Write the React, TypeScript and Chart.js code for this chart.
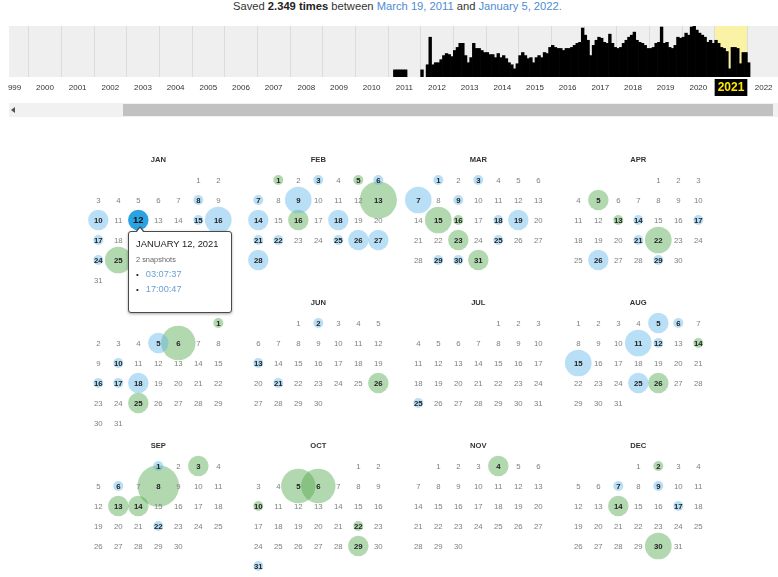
import React, { useEffect, useRef } from 'react';
import { Chart, registerables } from 'chart.js';
Chart.register(...registerables);

// ---------- Sparkline data (snapshots per month, relative heights) ----------
const YEARS = ['1999','2000','2001','2002','2003','2004','2005','2006','2007','2008','2009','2010','2011','2012','2013','2014','2015','2016','2017','2018','2019','2020','2021','2022'];
const MONTH_ABBR = ['Jan','Feb','Mar','Apr','May','Jun','Jul','Aug','Sep','Oct','Nov','Dec'];
const HIGHLIGHT_YEAR = '2021';
const Y2011 = [0,0,7,7,7,7,7,0,0,0,0,0];
const Y2012 = [7,0,12,39,12,14,14,17,21,23,22,20];
const Y2013 = [26,29,33,33,21,14,19,33,28,28,26,24];
const Y2014 = [24,22,22,19,23,19,21,18,14,12,8,13];
const Y2015 = [21,24,21,18,19,14,19,21,19,24,23,29];
const Y2016 = [31,29,28,28,26,28,28,29,31,33,34,48];
const Y2017 = [41,36,21,31,36,39,38,34,33,42,33,29];
const Y2018 = [28,29,33,36,39,41,44,36,34,33,31,28];
const Y2019 = [28,29,33,34,49,33,34,29,28,31,39,38];
const Y2020 = [39,43,41,49,50,46,43,41,39,34,36,33];
const Y2021 = [36,33,29,28,25,8,29,29,28,13,24,24];
const Y2022 = [14,0,0,0,0,0,0,0,0,0,0,0];
const SPARK: Record<string, number[]> = { '2011': Y2011, '2012': Y2012, '2013': Y2013, '2014': Y2014, '2015': Y2015, '2016': Y2016, '2017': Y2017, '2018': Y2018, '2019': Y2019, '2020': Y2020, '2021': Y2021, '2022': Y2022 };
const EMPTY_YEAR = [0,0,0,0,0,0,0,0,0,0,0,0];

// ---------- Calendar data: [day, snapshots, kind]  b=2xx, g=3xx, a=active ----------
const CAL_YEAR = 2021;
const MONTH_NAMES = ['JAN','FEB','MAR','APR','MAY','JUN','JUL','AUG','SEP','OCT','NOV','DEC'];
const JAN: [number, number, string][] = [[8,1,'b'],[10,2,'b'],[12,2,'a'],[15,1,'b'],[16,3,'b'],[17,1,'b'],[24,1,'b'],[25,3,'g']];
const FEB: [number, number, string][] = [[1,1,'g'],[3,1,'b'],[5,1,'g'],[6,1,'b'],[7,1,'b'],[9,3,'b'],[13,6,'g'],[14,2,'b'],[16,2,'g'],[18,2,'b'],[21,1,'b'],[22,1,'b'],[25,1,'b'],[26,2,'b'],[27,2,'b'],[28,2,'b']];
const MAR: [number, number, string][] = [[1,1,'b'],[3,1,'b'],[7,3,'b'],[9,1,'b'],[15,3,'g'],[16,1,'g'],[18,1,'b'],[19,2,'b'],[23,2,'g'],[25,1,'b'],[29,1,'b'],[30,1,'b'],[31,2,'g']];
const APR: [number, number, string][] = [[5,2,'g'],[13,1,'g'],[14,1,'b'],[17,1,'b'],[21,1,'b'],[22,3,'g'],[26,2,'b'],[29,1,'b']];
const MAY: [number, number, string][] = [[1,1,'g'],[5,2,'b'],[6,5,'g'],[10,1,'b'],[16,1,'b'],[17,1,'b'],[18,2,'b'],[25,2,'g']];
const JUN: [number, number, string][] = [[2,1,'b'],[13,1,'b'],[21,1,'b'],[26,2,'g']];
const JUL: [number, number, string][] = [[25,1,'b']];
const AUG: [number, number, string][] = [[5,2,'b'],[6,1,'b'],[11,3,'b'],[12,1,'b'],[14,1,'g'],[15,3,'b'],[25,2,'b'],[26,2,'g']];
const SEP: [number, number, string][] = [[1,1,'b'],[3,2,'g'],[6,1,'b'],[8,8,'g'],[13,2,'g'],[14,2,'g'],[22,1,'b']];
const OCT: [number, number, string][] = [[5,5,'g'],[6,5,'g'],[10,1,'g'],[22,1,'g'],[29,2,'g'],[31,1,'b']];
const NOV: [number, number, string][] = [[4,2,'g']];
const DEC: [number, number, string][] = [[2,1,'g'],[7,1,'b'],[9,1,'b'],[14,2,'g'],[17,1,'b'],[30,3,'g']];
const CAL = [JAN, FEB, MAR, APR, MAY, JUN, JUL, AUG, SEP, OCT, NOV, DEC];

const TIP_TITLE = 'JANUARY 12, 2021';
const TIP_COUNT = '2 snapshots';
const TIP_TIMES = ['03:07:37', '17:00:47'];

const FONT = '"Liberation Sans", Arial, Helvetica, sans-serif';
const ROW_STEP = 7.15;
const COL_STEP = 8;
const WRAP_LEFT = 8; // page x of the sparkline clip box
const SPARK_LEFT = -4; // page x of the canvas
const GREY_START = 9; // page x where the grey strip starts

function radiusFor(count: number) {
  return 5 + 7.6 * Math.log(count);
}

function cellOf(month: number, day: number) {
  const first = new Date(CAL_YEAR, month, 1).getDay();
  const idx = first + day - 1;
  const row = Math.floor(month / 4);
  const col = month % 4;
  return { x: col * COL_STEP + (idx % 7), y: row * ROW_STEP + Math.floor(idx / 7) };
}

const sparkBg = {
  id: 'sparkBg',
  beforeDraw(chart: any) {
    const { ctx, chartArea: a, scales } = chart;
    ctx.save();
    ctx.fillStyle = '#efefef';
    const gx = Math.max(a.left, GREY_START - SPARK_LEFT);
    ctx.fillRect(gx, a.top, a.right - gx, a.bottom - a.top);
    const ys = scales.years;
    const i = YEARS.indexOf(HIGHLIGHT_YEAR);
    const cx = ys.getPixelForTick(i);
    const half = (a.right - a.left) / YEARS.length / 2;
    ctx.fillStyle = '#faf3a6';
    ctx.fillRect(cx - half, a.top, half * 2, a.bottom - a.top);
    ctx.restore();
  },
};

const calText = {
  id: 'calText',
  afterDatasetsDraw(chart: any) {
    const { ctx, scales } = chart;
    const sx = scales.x, sy = scales.y;
    ctx.save();
    ctx.textAlign = 'center';
    ctx.textBaseline = 'middle';
    for (let m = 0; m < 12; m++) {
      const row = Math.floor(m / 4);
      const col = m % 4;
      ctx.font = `bold 7.6px ${FONT}`;
      ctx.fillStyle = '#333';
      ctx.fillText(MONTH_NAMES[m], sx.getPixelForValue(col * COL_STEP + 3), sy.getPixelForValue(row * ROW_STEP - 1));
      const n = new Date(CAL_YEAR, m + 1, 0).getDate();
      const snaps = new Map(CAL[m].map((s) => [s[0], s]));
      for (let d = 1; d <= n; d++) {
        const c = cellOf(m, d);
        const s = snaps.get(d);
        if (s && s[2] === 'a') {
          ctx.font = `bold 9.5px ${FONT}`;
          ctx.fillStyle = '#111';
        } else if (s) {
          ctx.font = `bold 7.8px ${FONT}`;
          ctx.fillStyle = '#222';
        } else {
          ctx.font = `7.8px ${FONT}`;
          ctx.fillStyle = '#808080';
        }
        ctx.fillText(String(d), sx.getPixelForValue(c.x), sy.getPixelForValue(c.y) + 0.5);
      }
    }
    ctx.restore();
  },
};

function bubbles(kind: string) {
  const out: { x: number; y: number; r: number }[] = [];
  CAL.forEach((list, m) => {
    list.forEach(([day, count, k]) => {
      if (k !== kind) return;
      const c = cellOf(m, day);
      out.push({ x: c.x, y: c.y, r: radiusFor(count) });
    });
  });
  return out;
}

export default function App() {
  const sparkRef = useRef<HTMLCanvasElement>(null);
  const calRef = useRef<HTMLCanvasElement>(null);

  useEffect(() => {
    const labels = YEARS.flatMap((y) => MONTH_ABBR.map((m) => `${m} ${y}`));
    // months without snapshots are left empty (no bar drawn)
    const values = YEARS.flatMap((y) => SPARK[y] ?? EMPTY_YEAR).map((v) => (v > 0 ? v : null));
    const spark = new Chart(sparkRef.current!, {
      type: 'bar',
      data: {
        labels,
        datasets: [{ data: values, backgroundColor: '#000', borderWidth: 0, barPercentage: 1, categoryPercentage: 1 }],
      },
      options: {
        animation: false,
        responsive: false,
        events: [],
        layout: { padding: { left: 0, right: 0, top: 0, bottom: 3 }, autoPadding: false } as any,
        plugins: { legend: { display: false }, tooltip: { enabled: false } },
        scales: {
          x: { display: false },
          years: {
            type: 'category',
            labels: YEARS,
            position: 'bottom',
            offset: true,
            afterFit: (scale: any) => {
              scale.height = 24;
            },
            grid: { offset: true, color: '#dcdcdc', drawTicks: false, lineWidth: 1 },
            border: { display: false },
            ticks: {
              autoSkip: false,
              maxRotation: 0,
              padding: 2,
              color: (c: any) => (c.tick && c.tick.label === HIGHLIGHT_YEAR ? '#ffe600' : '#333'),
              font: (c: any) =>
                c.tick && c.tick.label === HIGHLIGHT_YEAR
                  ? { family: FONT, size: 12, weight: 'bold', lineHeight: 17 / 12 }
                  : { family: FONT, size: 8, lineHeight: 17 / 8 },
              showLabelBackdrop: (c: any) => !!(c.tick && c.tick.label === HIGHLIGHT_YEAR),
              backdropColor: '#000',
              backdropPadding: { left: 3, right: 3, top: 0, bottom: 0 },
            } as any,
          } as any,
          y: { display: false, min: 0, max: 50 },
        },
      },
      plugins: [sparkBg],
    });

    const cal = new Chart(calRef.current!, {
      type: 'bubble',
      data: {
        datasets: [
          { data: bubbles('b'), backgroundColor: 'rgba(100,185,236,0.45)', borderWidth: 0 },
          { data: bubbles('g'), backgroundColor: 'rgba(84,168,78,0.45)', borderWidth: 0 },
          { data: bubbles('a'), backgroundColor: '#2ba3e3', borderWidth: 0 },
        ],
      },
      options: {
        animation: false,
        responsive: false,
        events: [],
        layout: { padding: 0, autoPadding: false } as any,
        plugins: { legend: { display: false }, tooltip: { enabled: false } },
        scales: {
          x: { type: 'linear', display: false, min: -4.915, max: 33.985 },
          y: { type: 'linear', display: false, reverse: true, min: -2, max: 19.85 },
        },
      },
      plugins: [calText],
    });

    return () => {
      spark.destroy();
      cal.destroy();
    };
  }, []);

  return (
    <div style={{ position: 'absolute', left: 0, top: 0, width: 778, height: 577, overflow: 'hidden', background: '#fff', fontFamily: FONT }}>
      <div style={{ position: 'absolute', left: 233, top: 0, fontSize: 11.2, lineHeight: '13px', whiteSpace: 'nowrap', color: '#333' }}>
        Saved <b style={{ color: '#222' }}>2.349 times</b> between <span style={{ color: '#4d8bd3' }}>March 19, 2011</span> and{' '}
        <span style={{ color: '#4d8bd3' }}>January 5, 2022.</span>
      </div>

      <div style={{ position: 'absolute', left: WRAP_LEFT, top: 26, width: 778 - WRAP_LEFT, height: 78, overflow: 'hidden' }}>
        <canvas ref={sparkRef} width={784} height={78} style={{ position: 'absolute', left: SPARK_LEFT - WRAP_LEFT, top: 0, width: 784, height: 78 }} />
      </div>

      <div style={{ position: 'absolute', left: 9, top: 103, width: 769, height: 14, background: '#f1f1f1' }}>
        <div style={{ position: 'absolute', left: 114, top: 1, width: 650, height: 12, background: '#c1c1c1' }} />
        <div style={{ position: 'absolute', left: 2, top: 4, width: 0, height: 0, borderTop: '3px solid transparent', borderBottom: '3px solid transparent', borderRight: '4px solid #505050' }} />
      </div>

      <canvas ref={calRef} width={778} height={437} style={{ position: 'absolute', left: 0, top: 140, width: 778, height: 437 }} />

      <div style={{ position: 'absolute', left: 128, top: 231, width: 102, height: 80, background: '#fff', border: '1px solid #4a4a4a', borderRadius: 3, boxShadow: '0 1px 3px rgba(0,0,0,0.35)' }}>
        <div style={{ position: 'absolute', left: 6, top: -6, width: 0, height: 0, borderLeft: '5px solid transparent', borderRight: '5px solid transparent', borderBottom: '6px solid #4a4a4a' }} />
        <div style={{ position: 'absolute', left: 7, top: -4, width: 0, height: 0, borderLeft: '4px solid transparent', borderRight: '4px solid transparent', borderBottom: '5px solid #fff' }} />
        <div style={{ position: 'absolute', left: 7, top: 6, fontSize: 9.4, lineHeight: '12px', color: '#222', whiteSpace: 'nowrap' }}>{TIP_TITLE}</div>
        <div style={{ position: 'absolute', left: 7, top: 23, fontSize: 7.4, lineHeight: '10px', color: '#666', whiteSpace: 'nowrap' }}>{TIP_COUNT}</div>
        {TIP_TIMES.map((t, i) => (
          <div key={t} style={{ position: 'absolute', left: 7, top: 36 + i * 14.5, fontSize: 9.2, lineHeight: '12px', whiteSpace: 'nowrap' }}>
            <span style={{ color: '#222', fontSize: 8 }}>•</span>
            <span style={{ color: '#6a9fd6', marginLeft: 7 }}>{t}</span>
          </div>
        ))}
      </div>
    </div>
  );
}
